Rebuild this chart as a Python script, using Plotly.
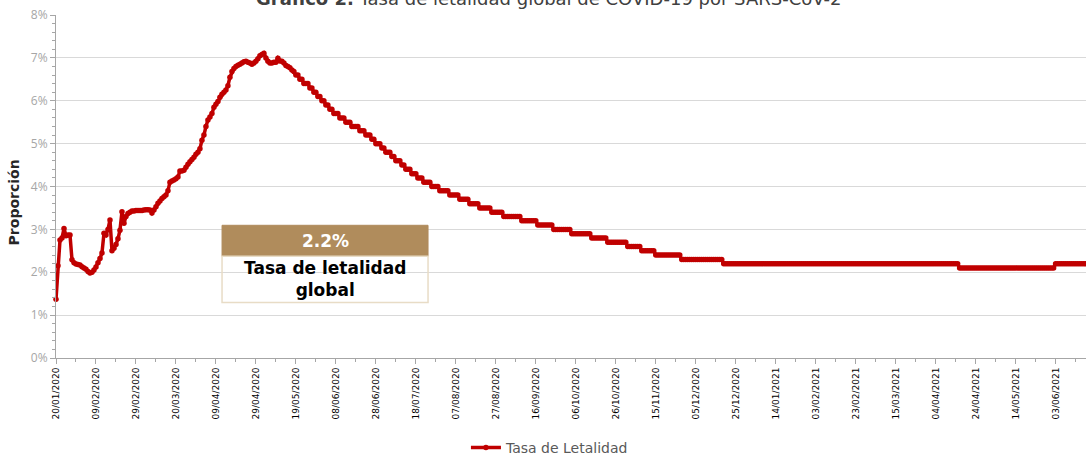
import pandas as pd
import plotly.graph_objects as go

# ---- data ----
start_date = "2020-01-20"

# daily values (%) from 20/01/2020 (day 0) to day 119
early_values = [
    1.37, 2.15, 2.75, 2.80, 3.02, 2.85, 2.87, 2.87, 2.29, 2.22,
    2.19, 2.18, 2.17, 2.13, 2.10, 2.07, 2.02, 1.98, 2.00, 2.05,
    2.12, 2.22, 2.32, 2.45, 2.91, 2.87, 3.00, 3.22, 2.50, 2.56,
    2.65, 2.78, 2.98, 3.41, 3.14, 3.30, 3.37, 3.40, 3.43, 3.43,
    3.44, 3.44, 3.44, 3.44, 3.45, 3.46, 3.46, 3.45, 3.38, 3.45,
    3.53, 3.61, 3.66, 3.72, 3.76, 3.80, 3.90, 4.10, 4.13, 4.15,
    4.18, 4.22, 4.36, 4.36, 4.38, 4.45, 4.52, 4.58, 4.63, 4.68,
    4.75, 4.80, 4.88, 5.08, 5.20, 5.40, 5.55, 5.62, 5.70, 5.85,
    5.92, 5.98, 6.08, 6.15, 6.20, 6.25, 6.35, 6.55, 6.68, 6.75,
    6.80, 6.83, 6.85, 6.88, 6.91, 6.92, 6.90, 6.88, 6.85, 6.88,
    6.92, 6.98, 7.05, 7.08, 7.11, 7.00, 6.92, 6.88, 6.88, 6.90,
    6.90, 6.99, 6.93, 6.92, 6.88, 6.82, 6.80, 6.77, 6.72, 6.68,
]

# later values are reported rounded to 0.1 %: value and number of days it holds
step_values = [6.6, 6.5, 6.4, 6.3, 6.2, 6.1, 6.0, 5.9, 5.8, 5.7,
               5.6, 5.5, 5.4, 5.3, 5.2, 5.1, 5.0, 4.9, 4.8, 4.7,
               4.6, 4.5, 4.4, 4.3, 4.2, 4.1, 4.0, 3.9, 3.8, 3.7,
               3.6, 3.5, 3.4, 3.3, 3.2, 3.1, 3.0, 2.9, 2.8, 2.7,
               2.6, 2.5, 2.4, 2.3, 2.2, 2.1, 2.2]
step_days = [2, 2, 3, 2, 2, 2, 2, 2, 2, 3,
             3, 3, 4, 3, 3, 2, 3, 2, 3, 2,
             3, 2, 3, 3, 3, 4, 4, 5, 5, 5,
             5, 6, 6, 9, 8, 8, 9, 10, 8, 10,
             7, 7, 13, 21, 118, 48, 16]

series_name = "Tasa de Letalidad"
y_ticks = [0, 1, 2, 3, 4, 5, 6, 7, 8]
y_tick_labels = ["0%", "1%", "2%", "3%", "4%", "5%", "6%", "7%", "8%"]
x_range = ["2020-01-20", "2021-06-18 05:00"]
box_value = "2.2%"
box_label = "Tasa de letalidad<br>global"
title_bold = "Gráfico 2."
title_rest = " Tasa de letalidad global de COVID-19 por SARS-CoV-2"
y_title = "Proporción"

# ---- build the series ----
values = list(early_values)
for v, n in zip(step_values, step_days):
    values.extend([v] * n)
dates = pd.date_range(start_date, periods=len(values), freq="D")

DAY = 86400000
RED = "#C00000"

fig = go.Figure()
fig.add_trace(go.Scatter(
    x=dates, y=values, mode="lines+markers", name=series_name,
    line=dict(color=RED, width=3.5),
    marker=dict(color=RED, size=5.5, symbol="circle"),
    cliponaxis=False,
))

fig.update_layout(
    width=1086, height=455,
    margin=dict(l=56, r=0, t=15, b=97, autoexpand=False),
    paper_bgcolor="white", plot_bgcolor="white",
    showlegend=True,
    legend=dict(orientation="h", x=0.398, xanchor="left", y=-0.262, yanchor="middle",
                font=dict(family="DejaVu Sans", size=14, color="#595959"),
                bgcolor="rgba(0,0,0,0)", itemwidth=30),
    xaxis=dict(
        type="date", range=x_range, automargin=False,
        tick0=start_date, dtick=20 * DAY, tickformat="%d/%m/%Y", tickangle=-90,
        tickfont=dict(family="DejaVu Sans", size=9, color="#000000"),
        showgrid=False, zeroline=False,
        showline=True, linecolor="#A6A6A6", linewidth=1,
        ticks="outside", ticklen=5, tickcolor="#A6A6A6",
        minor=dict(dtick=10 * DAY, tick0=start_date, ticks="outside", ticklen=3,
                   tickcolor="#A6A6A6", showgrid=False),
    ),
    yaxis=dict(
        range=[0, 8], tickvals=y_ticks, ticktext=y_tick_labels, automargin=False,
        tickfont=dict(family="Open Sans", size=12, color="#A6A6A6"),
        showgrid=True, gridcolor="#D9D9D9", gridwidth=1, zeroline=False,
        showline=True, linecolor="#A6A6A6", linewidth=1,
        ticks="outside", ticklen=5, tickcolor="#A6A6A6",
        minor=dict(dtick=0.2, tick0=0, ticks="outside", ticklen=3,
                   tickcolor="#A6A6A6", showgrid=False),
    ),
)

# title (partly outside the top edge, as in the reference)
fig.add_annotation(
    xref="paper", yref="paper", x=0.478, y=1.049, xanchor="center", yanchor="middle",
    text=f"<b>{title_bold}</b>{title_rest}", showarrow=False,
    font=dict(family="DejaVu Sans", size=18, color="#404040"),
)

# y axis title
fig.add_annotation(
    xref="paper", yref="paper", x=-0.041, y=0.453, xanchor="center", yanchor="middle",
    text=f"<b>{y_title}</b>", textangle=-90, showarrow=False,
    font=dict(family="DejaVu Sans", size=14, color="#262626"),
)

# info box
bx0, bx1 = 0.1612, 0.3612
fig.add_shape(type="rect", xref="paper", yref="paper", x0=bx0, x1=bx1, y0=0.2964, y1=0.3869,
              fillcolor="#B08C5C", line=dict(color="#B08C5C", width=1), layer="above")
fig.add_shape(type="rect", xref="paper", yref="paper", x0=bx0, x1=bx1, y0=0.162, y1=0.2964,
              fillcolor="rgba(0,0,0,0)", line=dict(color="#E8DCC6", width=1.5), layer="above")
fig.add_annotation(
    xref="paper", yref="paper", x=(bx0 + bx1) / 2, y=0.3416, xanchor="center", yanchor="middle",
    text=f"<b>{box_value}</b>", showarrow=False,
    font=dict(family="DejaVu Sans", size=17, color="white"),
)
fig.add_annotation(
    xref="paper", yref="paper", x=(bx0 + bx1) / 2, y=0.229, xanchor="center", yanchor="middle",
    text=f"<b>{box_label}</b>", showarrow=False,
    font=dict(family="DejaVu Sans", size=17, color="#000000"),
)

fig.write_html(
    "out.html",
    config={"displayModeBar": False},
    post_script="document.body.style.margin='0px'; document.body.style.overflow='hidden';",
)
